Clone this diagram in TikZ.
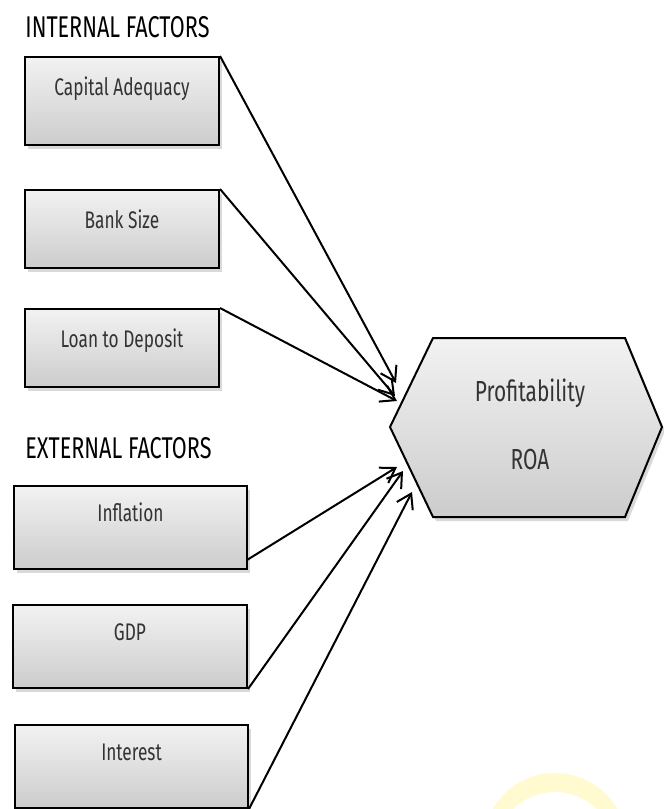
\documentclass[tikz,border=0pt]{standalone}
\usepackage{fontspec}
\setmainfont[FakeStretch=0.72]{Fira Sans}
\usetikzlibrary{arrows.meta,shadows}

\definecolor{wmark}{RGB}{255,250,208}
\tikzset{
  factor/.style={draw=black,line width=1pt,top color=gray!10,bottom color=gray!40,
    drop shadow={opacity=.3,shadow xshift=1.5pt,shadow yshift=-2pt},
    text=black!80,font=\fontsize{12}{14}\selectfont,inner xsep=0pt,inner ysep=0pt},
  heading/.style={anchor=base west,inner sep=0pt,font=\fontsize{15}{17}\selectfont},
  link/.style={line width=1pt,-{Straight Barb[length=7pt,width=9pt]}}
}

\begin{document}
\begin{tikzpicture}[x=0.5pt,y=-0.5pt]
	\useasboundingbox (0,0) rectangle (664,809);
	% faint mark in the corner
	\begin{scope}
		\clip (0,0) rectangle (664,809);
		\fill[wmark,even odd rule] (555,845) circle (72) (555,852) circle (60);
	\end{scope}

	\node[heading] (inthead) at (25,37) {INTERNAL FACTORS};
	\node[heading] (exthead) at (25,458) {EXTERNAL FACTORS};

	% internal factors
	\node[factor,minimum width=97pt,text height=19pt,text depth=25pt] (cap) at (122,101) {Capital Adequacy};
	\node[factor,minimum width=97pt,text height=19pt,text depth=20pt] (bank) at (122,229) {Bank Size};
	\node[factor,minimum width=97pt,text height=19pt,text depth=20pt] (loan) at (122,348) {Loan to Deposit};

	% external factors
	\node[factor,minimum width=116.5pt,text height=17.75pt,text depth=23.75pt] (infl) at (130.5,527.5) {Inflation};
	\node[factor,minimum width=117pt,text height=17.75pt,text depth=23.75pt] (gdp) at (130,646.5) {GDP};
	\node[factor,minimum width=116.5pt,text height=17.75pt,text depth=23.75pt] (inter) at (131.5,766.5) {Interest};

	% profitability hexagon
	\shade[draw=black,line width=1pt,top color=gray!10,bottom color=gray!40,
		drop shadow={opacity=.3,shadow xshift=1.5pt,shadow yshift=-2pt}]
		(390,427) -- (433,338) -- (625,338) -- (662,427) -- (625,517) -- (433,517) -- cycle;
	\node[text=black!80,font=\fontsize{14.5}{16}\selectfont] (prof) at (530,393) {Profitability};
	\node[text=black!80,font=\fontsize{14.5}{16}\selectfont] (roa) at (530,460) {ROA};

	\coordinate (t1) at (396,383);
	\coordinate (t2) at (395,396);
	\coordinate (t3) at (397,401);
	\coordinate (t4) at (397,467);
	\coordinate (t5) at (403,471);
	\coordinate (t6) at (412,492);
	\coordinate (s4) at (247,560);

	\draw[link] (cap.north east) -- (t1);
	\draw[link] (bank.north east) -- (t2);
	\draw[link] (loan.north east) -- (t3);
	\draw[link] (s4) -- (t4);
	\draw[link] (gdp.south east) -- (t5);
	\draw[link] (inter.south east) -- (t6);
\end{tikzpicture}
\end{document}
